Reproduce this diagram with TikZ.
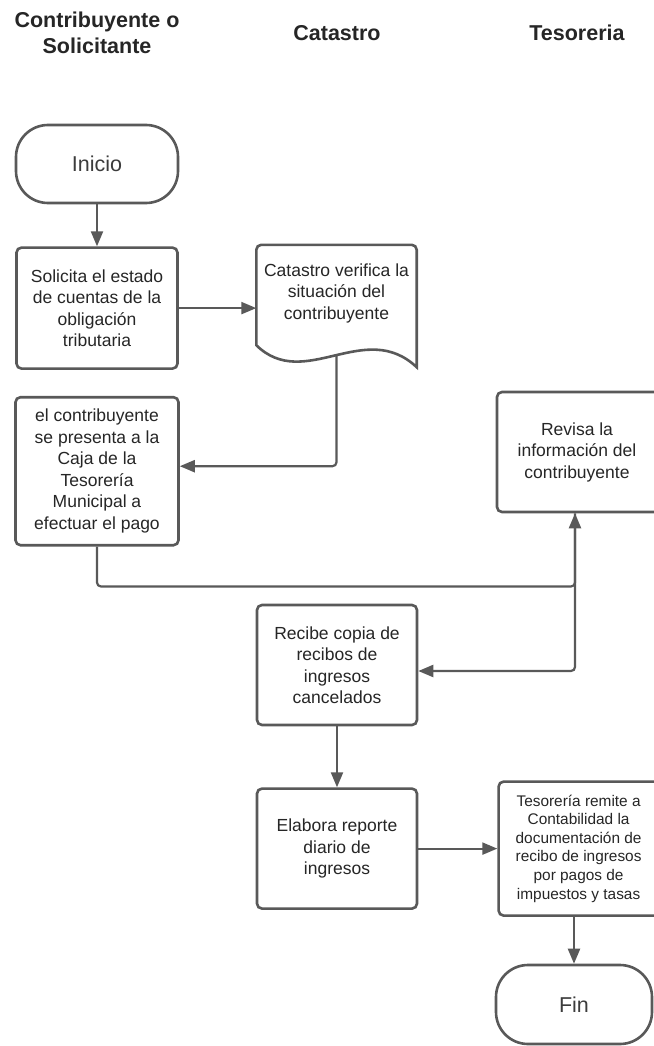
\documentclass[tikz,border=0pt]{standalone}
\usepackage{fontspec}
\setmainfont{Liberation Sans}
\usetikzlibrary{positioning,arrows.meta,calc}
\definecolor{ink}{HTML}{262626}
\definecolor{edge}{HTML}{595959}
\tikzset{
  lanehead/.style={align=center, text=ink, font=\bfseries\fontsize{21.5}{26}\selectfont},
  termbox/.style={draw=edge, line width=2.6pt, rounded corners=32pt, fill=white, minimum width=162pt, minimum height=78pt, align=center, text=ink!90, font=\fontsize{21.5}{26}\selectfont},
  stepbox/.style={draw=edge, line width=2.6pt, rounded corners=5pt, fill=white, minimum width=160pt, minimum height=120pt, inner sep=0pt, align=center, text=ink, font=\fontsize{17.5}{21.5}\selectfont},
  smallstep/.style={stepbox, font=\fontsize{15.4}{18.6}\selectfont},
  docbox/.style={minimum width=160pt, minimum height=96pt, inner sep=0pt, align=center, text=ink, font=\fontsize{17.5}{21.5}\selectfont},
  docline/.style={draw=edge, line width=2.6pt},
  flowarrow/.style={-{Triangle[length=15pt,width=12pt]}, line width=2.2pt, draw=edge, rounded corners=4pt}
}

\begin{document}
\begin{tikzpicture}[x=1pt, y=-1pt]
  \useasboundingbox[fill=white] (0,0) rectangle (653,1046);
  % lane headings
  \node[lanehead] (hcontrib) at (97,33) {Contribuyente o\\Solicitante};
  \node[lanehead] (hcatastro) at (337,33) {Catastro};
  \node[lanehead] (htesoreria) at (577,33) {Tesoreria};
  % steps
  \node[termbox] (inicio) at (97,164) {Inicio};
  \node[stepbox, minimum width=161pt, minimum height=121pt, below=42pt of inicio] (solicita) {Solicita el estado\\de cuentas de la\\obligación\\tributaria};
  \node[docbox] (catdoc) at (336.5,293) {Catastro verifica la\\situación del\\contribuyente};
  \node[stepbox, minimum width=163pt, minimum height=148pt, below=26pt of solicita] (pago) {el contribuyente\\se presenta a la\\Caja de la\\Tesorería\\Municipal a\\efectuar el pago};
  \node[stepbox, minimum width=166pt] (revisa) at (580,452) {\hspace*{-6pt}Revisa la\\\hspace*{-6pt}información del\\\hspace*{-6pt}contribuyente};
  \node[stepbox] (recibe) at (337,665) {Recibe copia de\\recibos de\\ingresos\\cancelados};
  \node[stepbox, below=61pt of recibe] (elabora) {Elabora reporte\\diario de\\ingresos};
  \node[smallstep, minimum width=166pt, minimum height=134pt, right=79pt of elabora] (remite) {\hspace*{-6pt}Tesorería remite a\\\hspace*{-6pt}Contabilidad la\\\hspace*{-6pt}documentación de\\\hspace*{-6pt}recibo de ingresos\\\hspace*{-6pt}por pagos de\\\hspace*{-6pt}impuestos y tasas};
  \node[termbox, minimum width=156pt, minimum height=79pt] (fin) at (574,1004.5) {Fin};
  % wavy bottom of the document shape
  \draw[docline] ([yshift=-26pt]catdoc.south east) .. controls +(-52,-49) and +(48,47) .. ([yshift=-4pt]catdoc.south west)
    [rounded corners=5pt] -- (catdoc.north west) -- (catdoc.north east) [sharp corners] -- cycle;
  \coordinate (catout) at ([yshift=-15pt]catdoc.south);
  % connectors
  \draw[flowarrow] (inicio) -- (solicita);
  \draw[flowarrow] (solicita.east) -- (solicita.east -| catdoc.west);
  \draw[flowarrow] (catout) |- ([yshift=5pt]pago.east);
  \draw[flowarrow] (pago.south) -- ++(0,40) -| ([xshift=-5pt]revisa.south);
  \draw[flowarrow] ([xshift=-5pt]revisa.south) |- ([yshift=-6pt]recibe.east);
  \draw[flowarrow] (recibe) -- (elabora);
  \draw[flowarrow] (elabora) -- (remite);
  \draw[flowarrow] (remite.south -| fin) -- (fin);
\end{tikzpicture}
\end{document}
